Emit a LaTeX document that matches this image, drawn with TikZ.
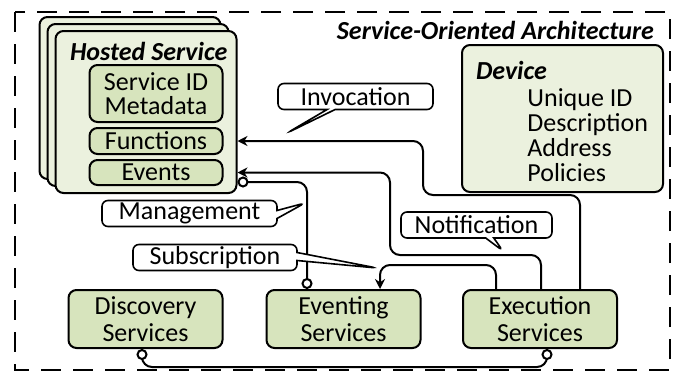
\documentclass[tikz,border=0pt]{standalone}
\usepackage{fontspec}
\setmainfont{Carlito}
\usetikzlibrary{positioning,calc,arrows.meta,shapes.callouts}
\definecolor{paleolive}{HTML}{EBF1DE}
\definecolor{olive}{HTML}{D7E4BD}
\tikzset{
    box/.style={draw, line width=1pt, rounded corners=4pt, align=center, inner sep=0pt},
    hostbox/.style={box, fill=paleolive, minimum width=90.5pt, minimum height=81pt},
    partbox/.style={box, fill=olive, minimum width=66.5pt},
    svcbox/.style={box, fill=olive, minimum width=77pt, minimum height=29pt, font=\fontsize{13}{13.3}\selectfont},
    heading/.style={font=\fontsize{13}{12.5}\selectfont\bfseries\itshape},
    bubble/.style={rectangle callout, draw, fill=white, line width=0.8pt, rounded corners=3pt,
        callout pointer width=4pt, inner sep=0pt, minimum height=13pt},
    link/.style={line width=1pt, rounded corners=5pt},
    use/.style={link, -{Stealth[length=5pt,width=5pt]}},
    bind/.style={link, {Circle[open,fill=white,length=5.5pt,width=5.5pt,line width=1pt]}-{Circle[open,fill=white,length=5.5pt,width=5.5pt,line width=1pt]}}
}
\begin{document}
\begin{tikzpicture}[x=0.5pt, y=-0.5pt, font=\fontsize{13}{12.5}\selectfont]
        \useasboundingbox (0,0) rectangle (683,375);
        % frame
        \draw[line width=1.3pt, dash pattern=on 10pt off 6pt] (15,12) rectangle (670,370);
        \node[anchor=east, heading] (soa) at (661,30) {Service-Oriented Architecture};

        % Hosted service (stack)
        \node[hostbox] (host3) at (130,98) {};
        \node[hostbox] (host2) at (138,105) {};
        \node[hostbox] (host) at (146,112) {};
        \node[anchor=north west, heading] (hosttitle) at (63,35) {Hosted Service};
        \node[partbox, minimum height=28.5pt, font=\fontsize{13}{11.8}\selectfont] (meta) at (156,93.5) {Service ID\\Metadata};
        \node[partbox, minimum height=13pt] (func) at (156,141) {Functions};
        \node[partbox, minimum height=12.5pt] (evts) at (156,172.5) {Events};

        % Device
        \node[box, fill=paleolive, minimum width=100.5pt, minimum height=73.5pt] (dev) at (562.5,118.5) {};
        \node[anchor=north west, heading] (devtitle) at (469,54) {Device};
        \node[anchor=north west, align=left, inner sep=0pt] (devitems) at (527,88) {Unique ID\\Description\\Address\\Policies};

        % Services
        \node[svcbox] (disc) at (145.5,319) {Discovery\\Services};
        \node[svcbox] (evsvc) at (343.5,319) {Eventing\\Services};
        \node[svcbox] (exec) at (540,319) {Execution\\Services};

        % connectors
        \coordinate (invx) at (580,0);
        \coordinate (notx) at (541,0);
        \coordinate (subx) at (496,0);
        \draw[use] (exec.north -| invx) |- (423,195) |- (host.east |- func);
        \draw[use] (exec.north -| notx) |- (390,255) |- (host.east |- evts);
        \draw[use] (exec.north -| subx) |- (380,265) -- (evsvc.north -| 380,0);
        \draw[bind] (host.east |- 0,182) -| (evsvc.north -| 307,0);
        \draw[bind] (disc.south -| 142,0) |- (547,367) -- (exec.south -| 547,0);

        % callouts
        \node[bubble, minimum width=77.5pt, callout absolute pointer={(287,133)}] (invo) at (355.5,96.5) {Invocation};
        \node[bubble, minimum width=87.5pt, callout absolute pointer={(305,203)}] (mgmt) at (189.5,213.5) {Management};
        \node[bubble, minimum width=82pt, callout absolute pointer={(377,268)}] (subs) at (215,257.5) {Subscription};
        \node[bubble, minimum width=75.5pt, callout absolute pointer={(503,251)}] (noti) at (476.5,225) {Notification};
    \end{tikzpicture}
\end{document}
